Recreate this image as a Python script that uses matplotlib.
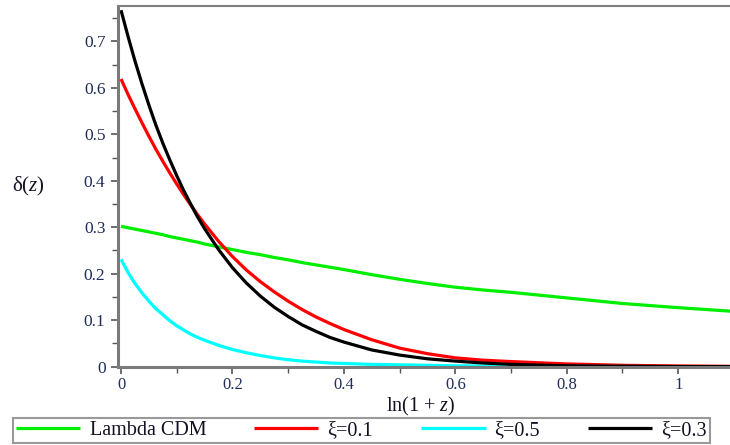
import matplotlib
matplotlib.use("Agg")
import matplotlib.pyplot as plt
from matplotlib.ticker import MultipleLocator

plt.rcParams['font.family'] = ['Liberation Serif', 'DejaVu Serif']
plt.rcParams['mathtext.fontset'] = 'custom'
plt.rcParams['mathtext.rm'] = 'Liberation Serif'
plt.rcParams['mathtext.it'] = 'Liberation Serif:italic'

# ln(1+z) sample points
x = [0, 0.0125, 0.025, 0.0375, 0.05, 0.0625, 0.075, 0.0875, 0.1, 0.1125,
     0.125, 0.1375, 0.15, 0.175, 0.2, 0.225, 0.25, 0.275, 0.3, 0.325, 0.35,
     0.375, 0.4, 0.45, 0.5, 0.55, 0.6, 0.65, 0.7, 0.8, 0.9, 1.0, 1.1]

lcdm = [0.302, 0.299, 0.296, 0.293, 0.290, 0.287, 0.284, 0.280, 0.277, 0.274,
        0.271, 0.268, 0.264, 0.258, 0.252, 0.246, 0.241, 0.235, 0.230, 0.224,
        0.219, 0.214, 0.209, 0.198, 0.188, 0.179, 0.171, 0.165, 0.160, 0.148,
        0.136, 0.127, 0.119]
xi01 = [0.619, 0.586, 0.555, 0.525, 0.496, 0.468, 0.442, 0.417, 0.393, 0.370,
        0.348, 0.327, 0.307, 0.270, 0.237, 0.208, 0.183, 0.161, 0.141, 0.123,
        0.107, 0.093, 0.080, 0.058, 0.040, 0.028, 0.019, 0.014, 0.011, 0.006,
        0.003, 0.0015, 0.0008]
xi05 = [0.231, 0.203, 0.179, 0.159, 0.141, 0.125, 0.112, 0.099, 0.088, 0.079,
        0.070, 0.063, 0.057, 0.046, 0.037, 0.030, 0.024, 0.019, 0.015, 0.012,
        0.010, 0.008, 0.007, 0.005, 0.004, 0.003, 0.002, 0.0015, 0.001, 0.0007,
        0.0004, 0.0002, 0.0001]
xi03 = [0.767, 0.711, 0.658, 0.609, 0.563, 0.520, 0.481, 0.445, 0.411, 0.379,
        0.350, 0.322, 0.297, 0.252, 0.213, 0.180, 0.152, 0.128, 0.108, 0.090,
        0.076, 0.063, 0.053, 0.036, 0.025, 0.017, 0.012, 0.008, 0.005, 0.002,
        0.0009, 0.0004, 0.0002]

labels = ["Lambda CDM", "ξ=0.1", "ξ=0.5", "ξ=0.3"]
colors = ["#00ee00", "#ff0000", "#00ffff", "#000000"]
series = [lcdm, xi01, xi05, xi03]

xticks = [0, 0.2, 0.4, 0.6, 0.8, 1.0]
xticklabels = ["0", "0.2", "0.4", "0.6", "0.8", "1"]
yticks = [0, 0.1, 0.2, 0.3, 0.4, 0.5, 0.6, 0.7]
yticklabels = ["0", "0.1", "0.2", "0.3", "0.4", "0.5", "0.6", "0.7"]

W, H = 730, 445
fig = plt.figure(figsize=(W / 100, H / 100), dpi=100)
ax = fig.add_axes([118 / W, 1 - 366.7 / H, (W - 118) / W, (366.7 - 6) / H])

handles = []
for ys, c, lab in zip(series, colors, labels):
    h, = ax.plot(x, ys, color=c, lw=2.3, label=lab, solid_capstyle='butt',
                 solid_joinstyle='round')
    handles.append(h)

ax.set_xlim(-0.0054, 1.093)
ax.set_ylim(0, 0.776)

tcol = '#1f2d5c'
ax.set_xticks(xticks)
ax.set_xticklabels(xticklabels, fontsize=12, color=tcol)
ax.set_yticks(yticks)
ax.set_yticklabels(yticklabels, fontsize=12.5, color=tcol)
ax.xaxis.set_minor_locator(MultipleLocator(0.1))
ax.yaxis.set_minor_locator(MultipleLocator(0.05))
ax.tick_params(which='major', direction='out', length=5, width=1.2,
               color='#555555', pad=4)
ax.tick_params(axis='x', which='major', pad=2.5)
ax.tick_params(which='minor', direction='out', length=4, width=1.0,
               color='#555555')

for s in ['left', 'bottom']:
    ax.spines[s].set_color('#7a7a7a')
    ax.spines[s].set_linewidth(2.2)
ax.spines['top'].set_color('#808080')
ax.spines['top'].set_linewidth(1.5)
ax.spines['right'].set_visible(False)

fig.text(421 / W, 1 - 394.5 / H, r'ln(1 + $\mathit{z}$)', fontsize=14.5,
         ha='center', va='top', color='#111122')
fig.text(28 / W, 1 - 186 / H, r'δ($\mathit{z}$)', fontsize=15,
         ha='center', va='center', color='#111122')

leg = fig.legend(handles=handles, labels=labels, loc='lower left',
                 bbox_to_anchor=(13 / W, 2 / H, (710 - 13) / W, 26 / H),
                 mode='expand', ncol=4, fontsize=14.5, frameon=True,
                 fancybox=False, edgecolor='#808080', handlelength=3.2,
                 handletextpad=0.45, columnspacing=0.6, borderpad=0.15,
                 borderaxespad=0)
leg.get_frame().set_linewidth(1.5)
for t in leg.get_texts():
    t.set_color('#111122')

fig.savefig('out.png', dpi=100)
